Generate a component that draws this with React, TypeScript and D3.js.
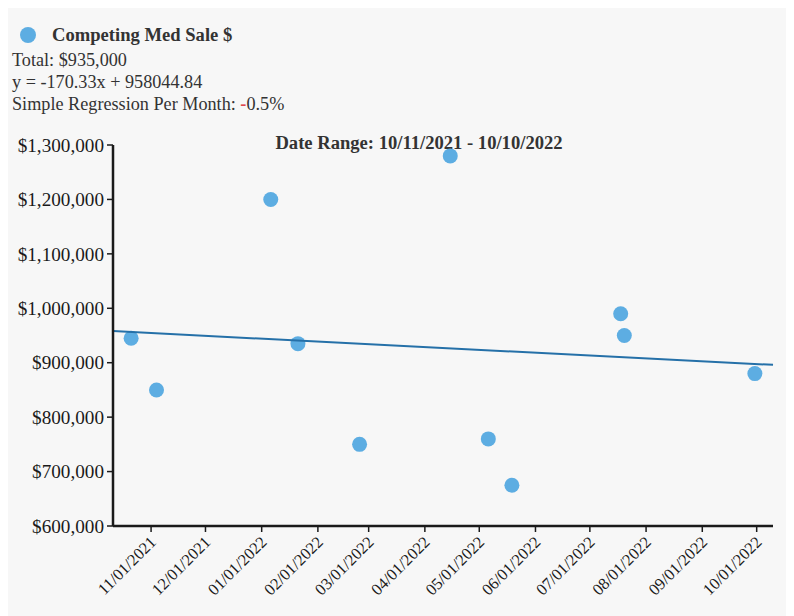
import React from "react";
import * as d3 from "d3";

const saleDates = [
  "2021-10-21", "2021-11-04", "2022-01-06", "2022-01-21", "2022-02-24", "2022-04-15",
  "2022-05-06", "2022-05-19", "2022-07-18", "2022-07-20", "2022-09-30",
];
const saleValues = [945000, 850000, 1200000, 935000, 750000, 1280000, 760000, 675000, 990000, 950000, 880000];
const yTicks = [600000, 700000, 800000, 900000, 1000000, 1100000, 1200000, 1300000];
const rangeStart = "2021-10-11";
const rangeEnd = "2022-10-10";
const regSlope = -170.33;
const regIntercept = 958044.84;
const seriesName = "Competing Med Sale $";
const totalText = "Total: $935,000";
const equationText = "y = -170.33x + 958044.84";
const regressionLabel = "Simple Regression Per Month: ";
const regressionValue = "0.5%";

const W = 786;
const H = 608;
const M = { left: 105, top: 137, right: 21, bottom: 90 };

export default function App() {
  const parse = d3.timeParse("%Y-%m-%d");
  const start = parse(rangeStart)!;
  const end = parse(rangeEnd)!;
  const innerW = W - M.left - M.right;
  const innerH = H - M.top - M.bottom;
  const x = d3.scaleTime().domain([start, end]).range([0, innerW]);
  const y = d3.scaleLinear().domain([600000, 1300000]).range([innerH, 0]);
  const fmtY = d3.format("$,");
  const fmtX = d3.timeFormat("%m/%d/%Y");
  const xTicks = d3.timeMonth.range(d3.timeMonth.ceil(start), end);
  const dayMs = 86400000;
  const regAt = (d: Date) => regSlope * ((d.getTime() - start.getTime()) / dayMs) + regIntercept;
  const line = d3.line<Date>().x((d) => x(d)).y((d) => y(regAt(d)));
  const points = saleDates.map((s, i) => ({ d: parse(s)!, v: saleValues[i] }));
  const font = "'Liberation Serif', 'Times New Roman', serif";
  const axisColor = "#1a1a1a";

  return (
    <svg width={W} height={H} style={{ display: "block", background: "#f7f7f7", fontFamily: font }}>
      <circle cx={20} cy={27} r={8} fill="#5dade2" />
      <text x={44} y={33} fontSize={18.6} fontWeight="bold" fill="#333">{seriesName}</text>
      <text x={4} y={58} fontSize={18.2} fill="#333">{totalText}</text>
      <text x={4} y={80} fontSize={18.2} fill="#333">{equationText}</text>
      <text x={4} y={102} fontSize={18.2} fill="#333">
        {regressionLabel}
        <tspan fill="#e0474c" fontWeight="bold">-</tspan>
        {regressionValue}
      </text>
      <g transform={`translate(${M.left},${M.top})`}>
        <text x={306} y={4} textAnchor="middle" fontSize={18.6} fontWeight="bold" fill="#333">
          {`Date Range: ${fmtX(start)} - ${fmtX(end)}`}
        </text>
        {points.map((p, i) => (
          <circle key={i} cx={x(p.d)} cy={y(p.v)} r={7.5} fill="#5dade2" />
        ))}
        <path d={line([start, end]) || ""} fill="none" stroke="#2570a8" strokeWidth={2} />
        <line x1={0} x2={0} y1={0} y2={innerH} stroke={axisColor} strokeWidth={2.5} />
        {yTicks.map((t) => (
          <g key={t} transform={`translate(0,${y(t)})`}>
            <line x1={-6} x2={0} stroke={axisColor} strokeWidth={1.5} />
            <text x={-9} dy="0.35em" textAnchor="end" fontSize={19.2} fill="#1a1a1a">{fmtY(t)}</text>
          </g>
        ))}
        <line x1={0} x2={innerW} y1={innerH} y2={innerH} stroke={axisColor} strokeWidth={2.5} />
        {xTicks.map((t, i) => (
          <g key={i} transform={`translate(${x(t)},${innerH})`}>
            <line y1={0} y2={6} stroke={axisColor} strokeWidth={1.5} />
            <text transform="translate(2,13) rotate(-45)" dy="0.35em" textAnchor="end" fontSize={16.5} fill="#1a1a1a">
              {fmtX(t)}
            </text>
          </g>
        ))}
      </g>
    </svg>
  );
}
